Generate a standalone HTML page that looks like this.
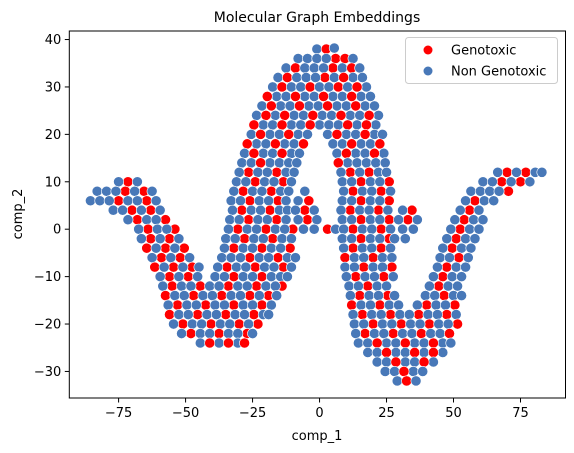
<!DOCTYPE html>
<html><head><meta charset="utf-8"><style>
html,body{margin:0;padding:0;background:#fff;}
svg{display:block;font-family:"DejaVu Sans","Liberation Sans",sans-serif;}
</style></head><body>
<svg id="chart" width="574" height="453" viewBox="0 0 574 453" xmlns="http://www.w3.org/2000/svg">
<rect width="574" height="453" fill="#fff"/>
<text x="317" y="22" font-size="14" text-anchor="middle" fill="#000">Molecular Graph Embeddings</text>
<g id="points"></g>
<g id="axes"></g>
<text x="317" y="440" font-size="13" text-anchor="middle" fill="#000">comp_1</text>
<text x="0" y="0" font-size="13" text-anchor="middle" fill="#000" transform="translate(22,214) rotate(-90)">comp_2</text>
<g>
<rect x="405.5" y="37.5" width="152" height="46" rx="3" fill="#fff" fill-opacity="0.8" stroke="#ccc"/>
<circle cx="428" cy="50" r="4.5" fill="#ff0000"/>
<text x="451" y="54.5" font-size="13" fill="#000">Genotoxic</text>
<circle cx="428" cy="71" r="4.5" fill="#4878b8"/>
<text x="451" y="75.5" font-size="13" fill="#000">Non Genotoxic</text>
</g>
</svg>
<script>
const xTicks=[-75,-50,-25,0,25,50,75];
const yTicks=[-30,-20,-10,0,10,20,30,40];
const genoPts=[
[2.5,38],[6,36],[9.5,36],[-9,34],[5,34],[12,34],[-12,32],[2,32],[9,32],
[-14,30],[-3.5,30],[7,30],[14,30],[-19.5,28],[-9,28],[1.5,28],[12,28],
[-18,26],[-7.5,26],[3,26],[13.5,26],[-20,24],[-13,24],[-2.5,24],[8,24],[18.5,24],
[-24.5,22],[-14,22],[-3.5,22],[10.5,22],[17.5,22],[-22,20],[-11.5,20],[6.5,20],[17,20],
[-27,18],[-16.5,18],[-6,18],[12,18],[22.5,18],[-24.5,16],[-14,16],[10,16],[20.5,16],
[-22,14],[7,14],[-26.5,12],[-16,12],[11.5,12],[18.5,12],[70,12],[77,12],
[-24,10],[-13.5,10],[15.5,10],[26,10],[-71.5,10],[68,10],[75,10],
[-28.5,8],[-18,8],[12.5,8],[23,8],[-72.5,8],[-65.5,8],[70.5,8],
[-26,6],[-15.5,6],[-4,6],[15.5,6],[26,6],[-75,6],[-64.5,6],[58,6],
[-29,4],[-18.5,4],[-5.5,4],[11.5,4],[22,4],[34.5,4],[-70,4],[-63,4],[56,4],
[-26.5,2],[-16,2],[-4.5,2],[15.5,2],[26,2],[33,2],[-68,2],[-57.5,2],[54,2],
[-30.5,0],[-20,0],[-10,0],[3,0],[12.5,0],[23,0],[-64,0],[-54,0],[52.5,0],
[-28,-2],[-17.5,-2],[15.5,-2],[26,-2],[-63,-2],[-56,-2],[51,-2],
[-32,-4],[-21.5,-4],[-11,-4],[12.5,-4],[23,-4],[-64.5,-4],[-57.5,-4],[-50.5,-4],[49.5,-4],
[-26,-6],[-15.5,-6],[9.5,-6],[20,-6],[-59,-6],[-52,-6],[52,-6],
[-34.5,-8],[-24,-8],[-13.5,-8],[16.5,-8],[27,-8],[-61.5,-8],[-54.5,-8],[-47.5,-8],[47.5,-8],
[-56,-10],[-49,-10],[-32,-10],[-21.5,-10],[13.5,-10],[24,-10],[46,-10],
[-55,-12],[-44.5,-12],[-34,-12],[-23.5,-12],[-14,-12],[18,-12],[44.5,-12],
[-57.5,-14],[-47,-14],[-36.5,-14],[-26,-14],[-19,-14],[15,-14],[25.5,-14],[46.5,-14],
[-53,-16],[-42.5,-16],[-32,-16],[-21.5,-16],[12,-16],[22.5,-16],[40,-16],[50.5,-16],
[-56,-18],[-45.5,-18],[-35,-18],[-24.5,-18],[16,-18],[26.5,-18],[37,-18],[47.5,-18],
[-51,-20],[-40.5,-20],[-30,-20],[-23,-20],[20,-20],[30.5,-20],[41,-20],[51.5,-20],
[-48,-22],[-37.5,-22],[-27,-22],[17,-22],[27.5,-22],[38,-22],[48.5,-22],
[-41,-24],[-34,-24],[-28,-24],[21.5,-24],[32,-24],[42.5,-24],
[25,-26],[35.5,-26],[42.5,-26],[28.5,-28],[39,-28],[31.5,-30],[32.5,-32]
];
const nonPts=[
[-1,38],[5.5,38.2],
[-8,36],[-4.5,36],[-1,36],[2.5,36],[12.5,36],
[-12.5,34],[-5.5,34],[-2,34],[1.5,34],[8.5,34],[15,34],
[-15.5,32],[-8.5,32],[-5,32],[-1.5,32],[5.5,32],[12.5,32],[16,32],
[-17.5,30],[-10.5,30],[-7,30],[0,30],[3.5,30],[10.5,30],[17.5,30],
[-16,28],[-12.5,28],[-5.5,28],[-2,28],[5,28],[8.5,28],[15.5,28],[19,28],
[-21.5,26],[-14.5,26],[-11,26],[-4,26],[-0.5,26],[6.5,26],[10,26],[17,26],[20.5,26],
[-23.5,24],[-16.5,24],[-9.5,24],[-6,24],[1,24],[4.5,24],[11.5,24],[15,24],[22,24],
[-21,22],[-17.5,22],[-10.5,22],[-7,22],[0,22],[3.5,22],[7,22],[14,22],[21,22],
[-25.5,20],[-18.5,20],[-15,20],[-8,20],[-4.5,20],[3,20],[10,20],[13.5,20],[20.5,20],[23.5,20],
[-23.5,18],[-20,18],[-13,18],[-9.5,18],[5,18],[8.5,18],[15.5,18],[19,18],
[-28,16],[-21,16],[-17.5,16],[-10.5,16],[-7.5,16],[6.5,16],[13.5,16],[17,16],[24,16],
[-29,14],[-25.5,14],[-18.5,14],[-15,14],[-11.5,14],[-8.5,14],[10.5,14],[14,14],[17.5,14],[21,14],[24.5,14],
[-30,12],[-23,12],[-19.5,12],[-12.5,12],[-9.5,12],[8,12],[15,12],[22,12],[25,12],[66.5,12],[73.5,12],[80.5,12],[83,12],
[-31,10],[-27.5,10],[-20.5,10],[-17,10],[-10.5,10],[8.5,10],[12,10],[19,10],[22.5,10],[-75,10],[-68,10],[61,10],[64.5,10],[71.5,10],[78.5,10],
[-32,8],[-25,8],[-21.5,8],[-14.5,8],[-11.5,8],[-5.5,8],[9,8],[16,8],[19.5,8],[26.5,8],[-83,8],[-79.5,8],[-76,8],[-69,8],[-62.5,8],[56.5,8],[60,8],[63.5,8],[67,8],
[-33,6],[-29.5,6],[-22.5,6],[-19,6],[-12.5,6],[-8,6],[8.5,6],[12,6],[19,6],[22.5,6],[-85.5,6],[-82,6],[-78.5,6],[-71.5,6],[-68,6],[-61,6],[54.5,6],[61.5,6],[65,6],
[-32.5,4],[-25.5,4],[-22,4],[-15,4],[-12,4],[-9,4],[-2,4],[8,4],[15,4],[18.5,4],[25.5,4],[31,4],[-77,4],[-73.5,4],[-66.5,4],[-59.5,4],[52.5,4],[59.5,4],
[-33.5,2],[-30,2],[-23,2],[-19.5,2],[-12.5,2],[-8,2],[-1,2],[8.5,2],[12,2],[19,2],[22.5,2],[29.5,2],[36.5,2],[-71.5,2],[-64.5,2],[-61,2],[50.5,2],[57.5,2],[61,2],
[-34,0],[-27,0],[-23.5,0],[-16.5,0],[-13,0],[-6,0],[-2,0],[6,0],[9,0],[16,0],[19.5,0],[26.5,0],[31,0],[35,0],[-67.5,0],[-60.5,0],[-57,0],[49,0],[56,0],[59.5,0],
[-35,-2],[-31.5,-2],[-24.5,-2],[-21,-2],[-14,-2],[-10.5,-2],[8.5,-2],[12,-2],[19,-2],[22.5,-2],[28,-2],[32,-2],[-66.5,-2],[-59.5,-2],[-52.5,-2],[47.5,-2],[54.5,-2],[58,-2],
[-35.5,-4],[-28.5,-4],[-25,-4],[-18,-4],[-14.5,-4],[9,-4],[16,-4],[19.5,-4],[26.5,-4],[-61,-4],[-54,-4],[46,-4],[53,-4],[56.5,-4],
[-36.5,-6],[-33,-6],[-29.5,-6],[-22.5,-6],[-19,-6],[-12,-6],[-9,-6],[13,-6],[16.5,-6],[23.5,-6],[27,-6],[-62.5,-6],[-55.5,-6],[-48.5,-6],[45,-6],[48.5,-6],[55.5,-6],
[-38,-8],[-31,-8],[-27.5,-8],[-20.5,-8],[-17,-8],[-10.5,-8],[9.5,-8],[13,-8],[20,-8],[23.5,-8],[-58,-8],[-51,-8],[-45,-8],[44,-8],[51,-8],[54.5,-8],
[-59.5,-10],[-52.5,-10],[-45.5,-10],[-39,-10],[-35.5,-10],[-28.5,-10],[-25,-10],[-18,-10],[-14.5,-10],[-12,-10],[10,-10],[17,-10],[20.5,-10],[27.5,-10],[42.5,-10],[49.5,-10],[53,-10],
[-58.5,-12],[-51.5,-12],[-48,-12],[-41,-12],[-37.5,-12],[-30.5,-12],[-27,-12],[-20,-12],[-16.5,-12],[11,-12],[14.5,-12],[21.5,-12],[25,-12],[41,-12],[48,-12],[51.5,-12],
[-54,-14],[-50.5,-14],[-43.5,-14],[-40,-14],[-33,-14],[-29.5,-14],[-22.5,-14],[-16,-14],[11.5,-14],[18.5,-14],[22,-14],[28,-14],[39.5,-14],[43,-14],[50,-14],[53,-14],
[-56.5,-16],[-49.5,-16],[-46,-16],[-39,-16],[-35.5,-16],[-28.5,-16],[-25,-16],[-18,-16],[15.5,-16],[19,-16],[26,-16],[29.5,-16],[36.5,-16],[43.5,-16],[47,-16],
[-52.5,-18],[-49,-18],[-42,-18],[-38.5,-18],[-31.5,-18],[-28,-18],[-21,-18],[-19,-18],[12.5,-18],[19.5,-18],[23,-18],[30,-18],[33.5,-18],[40.5,-18],[44,-18],[51,-18],
[-54.5,-20],[-47.5,-20],[-44,-20],[-37,-20],[-33.5,-20],[-26.5,-20],[13,-20],[16.5,-20],[23.5,-20],[27,-20],[34,-20],[37.5,-20],[44.5,-20],[48,-20],
[-51.5,-22],[-44.5,-22],[-41,-22],[-34,-22],[-30.5,-22],[-25,-22],[13.5,-22],[20.5,-22],[24,-22],[31,-22],[34.5,-22],[41.5,-22],[45,-22],
[-44.5,-24],[-37.5,-24],[-30.5,-24],[14.5,-24],[18,-24],[25,-24],[28.5,-24],[35.5,-24],[39,-24],[46,-24],[49,-24],
[18,-26],[21.5,-26],[28.5,-26],[32,-26],[39,-26],[46,-26],
[21.5,-28],[25,-28],[32,-28],[35.5,-28],[42.5,-28],
[24.5,-30],[28,-30],[35,-30],[38.5,-30],
[29,-32],[36,-32]
];
const NS='http://www.w3.org/2000/svg';
const L=69.3,R=565.5,T=31,B=398;
const xMin=-93.4,xMax=91.8,yMin=-35.6,yMax=41.8;
function sx(v){return L+(v-xMin)/(xMax-xMin)*(R-L);}
function sy(v){return B-(v-yMin)/(yMax-yMin)*(B-T);}
const pts=document.getElementById('points');
function dot(p,color,name){
  const c=document.createElementNS(NS,'circle');
  c.setAttribute('cx',sx(p[0]));c.setAttribute('cy',sy(p[1]));
  c.setAttribute('r',5.1);c.setAttribute('fill',color);
  c.setAttribute('stroke','#fff');c.setAttribute('stroke-width','0.6');
  
  
  pts.appendChild(c);
}
const ratio=genoPts.length/nonPts.length;
let gi=0;
for(let i=0;i<nonPts.length;i++){
  dot(nonPts[i],'#4878b8','point-non-genotoxic');
  while(gi<genoPts.length && gi<=i*ratio){dot(genoPts[gi],'#ff0000','point-genotoxic');gi++;}
}
while(gi<genoPts.length){dot(genoPts[gi],'#ff0000','point-genotoxic');gi++;}
const ax=document.getElementById('axes');
const frame=document.createElementNS(NS,'rect');
frame.setAttribute('x',L);frame.setAttribute('y',T);frame.setAttribute('width',R-L);frame.setAttribute('height',B-T);
frame.setAttribute('fill','none');frame.setAttribute('stroke','#000');frame.setAttribute('stroke-width','1');


ax.appendChild(frame);
xTicks.forEach(t=>{
  const x=sx(t);
  const l=document.createElementNS(NS,'line');
  l.setAttribute('x1',x);l.setAttribute('x2',x);l.setAttribute('y1',B);l.setAttribute('y2',B+4.5);l.setAttribute('stroke','#000');
  
  
  ax.appendChild(l);
  const tx=document.createElementNS(NS,'text');
  tx.setAttribute('x',x);tx.setAttribute('y',B+19);tx.setAttribute('font-size','13');tx.setAttribute('text-anchor','middle');
  tx.textContent=t<0?'\u2212'+(-t):String(t);
  
  
  ax.appendChild(tx);
});
yTicks.forEach(t=>{
  const y=sy(t);
  const l=document.createElementNS(NS,'line');
  l.setAttribute('x1',L-4.5);l.setAttribute('x2',L);l.setAttribute('y1',y);l.setAttribute('y2',y);l.setAttribute('stroke','#000');
  
  
  ax.appendChild(l);
  const tx=document.createElementNS(NS,'text');
  tx.setAttribute('x',L-8);tx.setAttribute('y',y+4.5);tx.setAttribute('font-size','13');tx.setAttribute('text-anchor','end');
  tx.textContent=t<0?'\u2212'+(-t):String(t);
  
  
  ax.appendChild(tx);
});
</script>
</body></html>
